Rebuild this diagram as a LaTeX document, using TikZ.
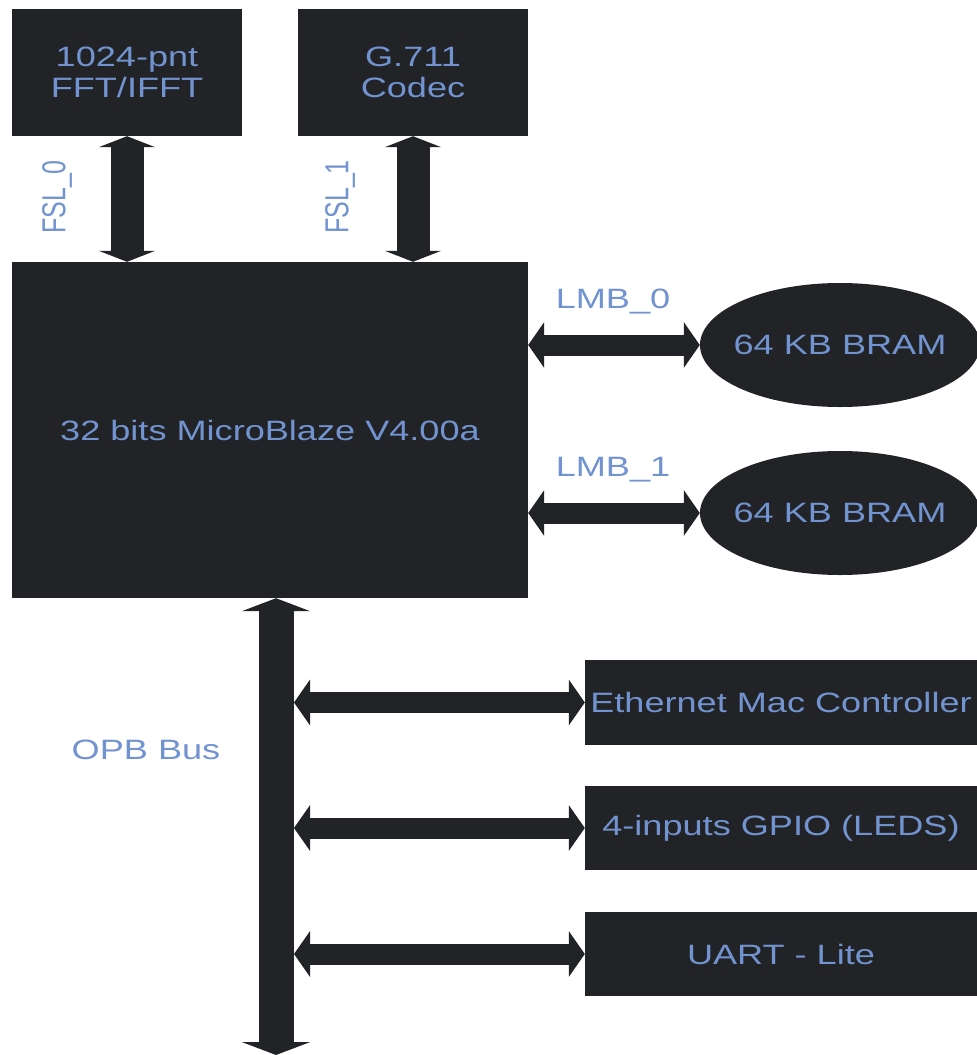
\documentclass[tikz,border=0pt]{standalone}
\usepackage{fontspec}
\setmainfont{Liberation Sans}[FakeStretch=1.29]
\newfontfamily\uprightlabel{Liberation Sans}
\usetikzlibrary{arrows.meta,positioning,shapes.geometric}
\definecolor{blockfill}{HTML}{222326}
\definecolor{labelblue}{HTML}{7193CF}

\begin{document}
\begin{tikzpicture}[
    x=1pt, y=-1pt,
    every node/.style={font=\fontsize{28}{31}\selectfont, text=labelblue},
    block/.style={fill=blockfill, draw=none, inner sep=0pt, align=center},
    mem/.style={block, ellipse, inner xsep=-25pt, inner ysep=0pt, minimum width=280pt, minimum height=124pt},
    lbl/.style={inner sep=0pt},
    vlbl/.style={lbl, rotate=90, yscale=1.33, font=\uprightlabel\fontsize{25}{30}\selectfont},
    link/.style={draw=blockfill, line width=21pt, {Triangle[width=45pt,length=16pt]}-{Triangle[width=45pt,length=16pt]}},
    fsl/.style={draw=blockfill, line width=33pt, {Triangle[width=56pt,length=11pt]}-{Triangle[width=56pt,length=11pt]}},
    opb/.style={draw=blockfill, line width=35pt, {Triangle[width=68pt,length=13pt]}-{Triangle[width=68pt,length=13pt]}}
  ]
    \useasboundingbox[fill=white] (0,0) rectangle (977,1055);
    % co-processors on the FSL links
    \node[block, minimum width=230pt, minimum height=127pt] (fft) at (127,72.5) {1024-pnt\\FFT/IFFT};
    \node[block, minimum width=230pt, minimum height=127pt] (codec) at (413,72.5) {G.711\\Codec};
    % processor and local memory
    \node[block, minimum width=516pt, minimum height=336pt] (mblaze) at (270,430) {32 bits MicroBlaze V4.00a};
    \node[mem] (bram0) at (840,345) {64 KB BRAM};
    \node[mem] (bram1) at (840,513) {64 KB BRAM};
    % peripherals on the OPB
    \node[block, minimum width=392pt, minimum height=85pt] (eth) at (781,702.5) {Ethernet Mac Controller};
    \node[block, minimum width=392pt, minimum height=84pt] (gpio) at (781,828) {4-inputs GPIO (LEDS)};
    \node[block, minimum width=392pt, minimum height=84pt] (uart) at (781,954) {UART - Lite};
    % bus labels
    \node[vlbl] (fsl0) at (57,197) {FSL\_0};
    \node[vlbl] (fsl1) at (340,197) {FSL\_1};
    \node[lbl] (lmb0) at (613,302) {LMB\_0};
    \node[lbl] (lmb1) at (613,470) {LMB\_1};
    \node[lbl] (opblabel) at (146,750) {OPB Bus};
    % links
    \draw[fsl] (fft.south) -- (fft.south |- mblaze.north);
    \draw[fsl] (codec.south) -- (codec.south |- mblaze.north);
    \draw[link] (mblaze.east |- bram0) -- (bram0.west);
    \draw[link] (mblaze.east |- bram1) -- (bram1.west);
    \coordinate (busend) at (276,1055);
    \coordinate (busedge) at (294,1055);
    \draw[opb] (mblaze.south -| busend) -- (busend);
    \foreach \dev in {eth,gpio,uart}
      \draw[link] (busedge |- \dev.west) -- (\dev.west);
  \end{tikzpicture}
\end{document}
